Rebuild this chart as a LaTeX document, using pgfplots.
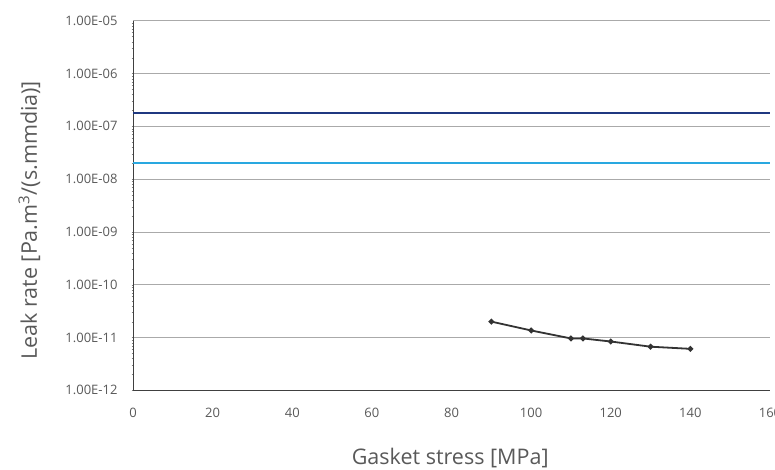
\documentclass[border=0pt]{standalone}
\usepackage{fontspec}
\setmainfont{Open Sans}
\usepackage{pgfplots}
\pgfplotsset{compat=1.18}
\definecolor{darkblue}{RGB}{31,56,128}
\definecolor{lightblue}{RGB}{41,168,224}
\definecolor{series}{RGB}{51,51,51}
\definecolor{txt}{RGB}{89,89,89}
\definecolor{gridc}{RGB}{170,170,170}
\begin{document}
\begin{tikzpicture}[x=1pt,y=1pt]
\useasboundingbox (-133,-79.7) rectangle (642,390.3);
\begin{axis}[
  at={(0,0)}, anchor=south west,
  scale only axis, width=637pt, height=369.6pt,
  ymode=log,
  xmin=0, xmax=160, ymin=1e-12, ymax=1e-5,
  axis x line=bottom, axis y line=left,
  axis line style={-, draw=black!75, line width=0.8pt},
  xtick={0,20,...,160},
  ytick={1e-12,1e-11,1e-10,1e-9,1e-8,1e-7,1e-6,1e-5},
  yticklabels={1.00E-12,1.00E-11,1.00E-10,1.00E-09,1.00E-08,1.00E-07,1.00E-06,1.00E-05},
  major tick length=0pt,
  ymajorgrids, grid style={gridc, line width=0.6pt},
  tick label style={font=\fontsize{13}{15}\selectfont, text=txt},
  /pgf/number format/assume math mode=true,
  xticklabel style={yshift=-14pt},
  yticklabel style={xshift=-12pt},
  xlabel={Gasket stress [MPa]},
  ylabel={Leak rate [Pa.m\textsuperscript{3}/(s.mmdia)]},
  label style={font=\fontsize{21.5}{24}\selectfont, text=txt},
  xlabel style={at={(axis description cs:0.498,0)}, anchor=base, yshift=-74pt},
  ylabel style={at={(axis description cs:0,0.46)}, anchor=base, yshift=96pt},
  clip=false,
]
\addplot[darkblue, line width=2pt] coordinates {(0,1.8e-7) (160,1.8e-7)};
\addplot[lightblue, line width=2pt] coordinates {(0,2.0e-8) (160,2.0e-8)};
\addplot[series, line width=1.8pt, mark=*, mark size=1.9pt] coordinates {
(90,2.0e-11) (100,1.36e-11) (110,9.6e-12) (113,9.6e-12) (120,8.4e-12) (130,6.7e-12) (140,6.1e-12)};
\end{axis}
\end{tikzpicture}
\end{document}
